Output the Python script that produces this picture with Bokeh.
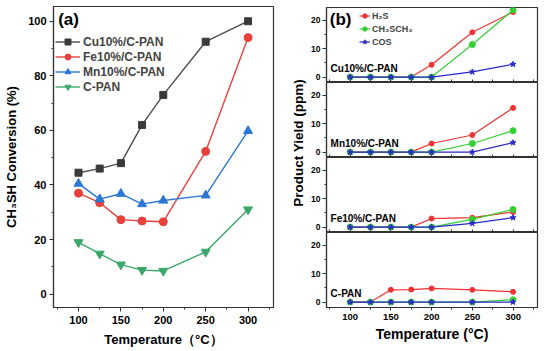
from bokeh.plotting import figure
from bokeh.layouts import row, column
from bokeh.models import Label, SingleIntervalTicker, FixedTicker, Range1d
from bokeh.embed import file_html
from bokeh.resources import INLINE

FONT = "Liberation Sans"

# ---------------- data ----------------
temps = [100, 125, 150, 175, 200, 250, 300]

# panel (a): CH3SH conversion (%)
conv_cu = [44.5, 46.0, 48.0, 62.0, 73.0, 92.5, 100.0]
conv_fe = [37.0, 33.5, 27.3, 26.8, 26.5, 52.3, 94.0]
conv_mn = [40.5, 34.8, 36.8, 33.0, 34.3, 36.2, 59.8]
conv_c = [19.0, 14.8, 10.8, 8.8, 8.5, 15.5, 31.0]
names_a = ["Cu10%/C-PAN", "Fe10%/C-PAN", "Mn10%/C-PAN", "C-PAN"]

# panel (b): product yield (ppm)
h2s_cu = [0, 0, 0, 0, 4.3, 15.7, 22.8]
dms_cu = [0, 0, 0, 0, 0, 11.4, 23.5]
cos_cu = [0, 0, 0, 0, 0, 1.8, 4.5]

h2s_mn = [0, 0, 0, 0, 3.0, 6.0, 15.5]
dms_mn = [0, 0, 0, 0, 0, 3.0, 7.5]
cos_mn = [0, 0, 0, 0, 0, 0, 3.3]

h2s_fe = [0, 0, 0, 0, 3.0, 3.3, 5.3]
dms_fe = [0, 0, 0, 0, 0, 2.7, 6.2]
cos_fe = [0, 0, 0, 0, 0, 1.3, 3.3]

h2s_c = [0, 0, 4.3, 4.4, 4.8, 4.3, 3.6]
dms_c = [0, 0, 0, 0, 0, 0, 0.8]
cos_c = [0, 0, 0, 0, 0, 0, 0]

names_b = ["Cu10%/C-PAN", "Mn10%/C-PAN", "Fe10%/C-PAN", "C-PAN"]
products = ["H₂S", "CH₃SCH₃", "COS"]
x_ticks_inner = [75, 100, 125, 150, 175, 200, 225, 250, 275, 300, 325]

# ---------------- panel (a) ----------------
pa = figure(width=280, height=351, output_backend="svg", toolbar_location=None,
            x_range=Range1d(70.5, 330), y_range=Range1d(-4.9, 105.4),
            min_border_left=53, min_border_right=7, min_border_top=6, min_border_bottom=44,
            background_fill_color="white", border_fill_color="white")
pa.grid.visible = False
pa.outline_line_color = "#333333"
pa.outline_line_width = 1.2

pa.xaxis.ticker = SingleIntervalTicker(interval=50, num_minor_ticks=2)
pa.yaxis.ticker = SingleIntervalTicker(interval=20, num_minor_ticks=2)
for ax in (pa.xaxis, pa.yaxis):
    ax.axis_line_color = "#333333"
    ax.axis_line_width = 1.2
    ax.major_tick_line_color = "#333333"
    ax.minor_tick_line_color = "#333333"
    ax.major_tick_in = 0
    ax.major_tick_out = 4
    ax.minor_tick_in = 0
    ax.minor_tick_out = 2
    ax.major_label_text_font = FONT
    ax.major_label_text_font_style = "bold"
    ax.major_label_text_font_size = "11px"
    ax.major_label_text_color = "black"
    ax.axis_label_text_font = FONT
    ax.axis_label_text_font_style = "bold"
    ax.axis_label_text_font_size = "13px"
    ax.axis_label_text_color = "black"
pa.xaxis.axis_label = "Temperature（°C）"
pa.yaxis.axis_label = "CH₃SH Conversion (%)"
pa.xaxis.major_label_standoff = 4
pa.yaxis.major_label_standoff = 3
pa.xaxis.axis_label_standoff = 5
pa.yaxis.axis_label_standoff = 6

series_a = [
    (conv_cu, "#4d4d4d", "#3a3a3a", "square", 7),
    (conv_fe, "#e8413c", "#e8413c", "circle", 8),
    (conv_mn, "#2b77d6", "#2b77d6", "triangle", 9),
    (conv_c, "#3aa86a", "#3aa86a", "inverted_triangle", 9),
]
for (vals, lc, mc, mk, sz), nm in zip(series_a, names_a):
    pa.line(temps, vals, line_color=lc, line_width=1.4, legend_label=nm)
    pa.scatter(temps, vals, marker=mk, size=sz, fill_color=mc, line_color=mc, legend_label=nm)

lg = pa.legend[0]
lg.location = (2, 213)
lg.glyph_width = 25
lg.glyph_height = 15
lg.label_height = 15
lg.spacing = 0
lg.padding = 0
lg.margin = 0
lg.label_standoff = 3
lg.label_text_font = FONT
lg.label_text_font_style = "bold"
lg.label_text_font_size = "12px"
lg.border_line_alpha = 0
lg.background_fill_alpha = 0

pa.add_layout(Label(x=76, y=104, text="(a)", text_baseline="top", text_align="left",
                    text_font=FONT, text_font_style="bold", text_font_size="17px",
                    text_color="black"))

# ---------------- y label column for (b) ----------------
pl = figure(width=28, height=351, output_backend="svg", toolbar_location=None,
            x_range=Range1d(0, 28), y_range=Range1d(0, 351),
            x_axis_location=None, y_axis_location=None, min_border=0,
            outline_line_color=None, background_fill_color="white", border_fill_color="white")
pl.grid.visible = False
pl.add_layout(Label(x=18, y=192, text="Product Yield (ppm)", angle=90, angle_units="deg",
                    text_align="center", text_baseline="middle",
                    text_font=FONT, text_font_style="bold", text_font_size="13.5px",
                    text_color="black"))

# ---------------- panel (b) ----------------
xr_b = Range1d(71, 330)
sets_b = [
    (h2s_cu, dms_cu, cos_cu),
    (h2s_mn, dms_mn, cos_mn),
    (h2s_fe, dms_fe, cos_fe),
    (h2s_c, dms_c, cos_c),
]
heights = [82, 75, 75, 119]
tops = [7, 0, 0, 0]
bottoms = [0, 0, 0, 44]
colors_b = ["#f03232", "#35d035", "#2a2acc"]
markers_b = ["circle", "circle", "star"]
msizes_b = [5, 6, 6]

figs_b = []
for i, ((h, d, c), nm) in enumerate(zip(sets_b, names_b)):
    p = figure(width=246, height=heights[i], output_backend="svg", toolbar_location=None,
               x_range=xr_b, y_range=Range1d(-1.9, 24.4),
               min_border_left=15, min_border_right=17,
               min_border_top=tops[i], min_border_bottom=bottoms[i],
               background_fill_color="white", border_fill_color="white")
    p.grid.visible = False
    p.outline_line_color = "#333333"
    p.outline_line_width = 1.2
    p.yaxis.ticker = SingleIntervalTicker(interval=10, num_minor_ticks=2)
    for ax in (p.xaxis, p.yaxis):
        ax.axis_line_color = "#333333"
        ax.axis_line_width = 1.2
        ax.major_tick_line_color = "#333333"
        ax.minor_tick_line_color = "#333333"
        ax.major_label_text_font = FONT
        ax.major_label_text_font_style = "bold"
        ax.major_label_text_color = "black"
    p.yaxis.major_label_text_font_size = "8.5px"
    p.yaxis.major_label_standoff = 2
    p.yaxis.major_tick_in = 0
    p.yaxis.major_tick_out = 4
    p.yaxis.minor_tick_in = 0
    p.yaxis.minor_tick_out = 2
    if i == 3:
        p.xaxis.ticker = SingleIntervalTicker(interval=50, num_minor_ticks=2)
        p.xaxis.major_label_text_font_size = "9.5px"
        p.xaxis.major_label_standoff = 3
        p.xaxis.major_tick_in = 0
        p.xaxis.major_tick_out = 3
        p.xaxis.minor_tick_in = 0
        p.xaxis.minor_tick_out = 2
        p.xaxis.axis_label = "Temperature (°C)"
        p.xaxis.axis_label_text_font = FONT
        p.xaxis.axis_label_text_font_style = "bold"
        p.xaxis.axis_label_text_font_size = "14px"
        p.xaxis.axis_label_text_color = "black"
        p.xaxis.axis_label_standoff = 3
    else:
        # inner panels: inward tick marks only, no labels
        p.xaxis.ticker = FixedTicker(ticks=[], minor_ticks=x_ticks_inner)
        p.xaxis.major_label_standoff = 0
        p.xaxis.major_tick_in = 0
        p.xaxis.major_tick_out = 0
        p.xaxis.minor_tick_in = 3
        p.xaxis.minor_tick_out = 0

    for vals, col, mk, ms, prod in zip((h, d, c), colors_b, markers_b, msizes_b, products):
        if i == 0:
            p.line(temps, vals, line_color=col, line_width=1.2, legend_label=prod)
            p.scatter(temps, vals, marker=mk, size=ms, fill_color=col, line_color=col,
                      legend_label=prod)
        else:
            p.line(temps, vals, line_color=col, line_width=1.2)
            p.scatter(temps, vals, marker=mk, size=ms, fill_color=col, line_color=col)

    p.add_layout(Label(x=76, y=2.9, text=nm, text_baseline="alphabetic", text_align="left",
                       text_font=FONT, text_font_style="bold", text_font_size="10px",
                       text_color="black"))
    if i == 0:
        lb = p.legend[0]
        lb.location = (33, 34)
        lb.glyph_width = 11
        lb.glyph_height = 13
        lb.label_height = 13
        lb.spacing = 0
        lb.padding = 0
        lb.margin = 0
        lb.label_standoff = 2
        lb.label_text_font = FONT
        lb.label_text_font_style = "bold"
        lb.label_text_font_size = "9px"
        lb.border_line_alpha = 0
        lb.background_fill_alpha = 0
        p.add_layout(Label(x=75, y=23.6, text="(b)", text_baseline="top", text_align="left",
                           text_font=FONT, text_font_style="bold", text_font_size="17px",
                           text_color="black"))
    figs_b.append(p)

layout = row(pa, pl, column(*figs_b))

open("out.html", "w").write(file_html(layout, INLINE))
